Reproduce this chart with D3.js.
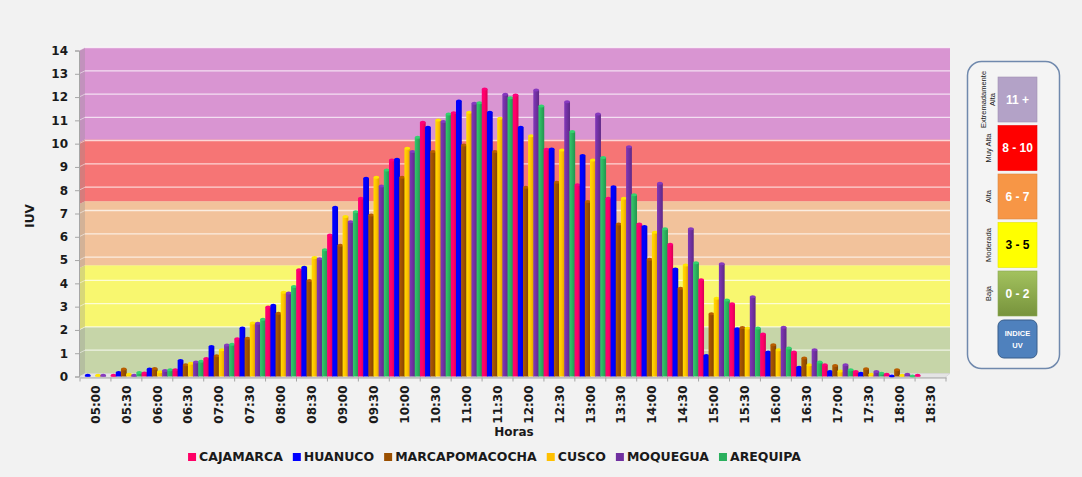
<!DOCTYPE html>
<html><head><meta charset="utf-8">
<script src="https://cdn.jsdelivr.net/npm/d3@7"></script>
<style>html,body{margin:0;padding:0;background:#f2f2f2;}svg{display:block;}</style>
</head><body><svg id="c" width="1082" height="477"></svg>
<script>
// ---------- DATA ----------
const hours = ["05:00","05:30","06:00","06:30","07:00","07:30","08:00","08:30","09:00","09:30","10:00","10:30","11:00","11:30","12:00","12:30","13:00","13:30","14:00","14:30","15:00","15:30","16:00","16:30","17:00","17:30","18:00","18:30"];
const seriesNames = ["CAJAMARCA","HUANUCO","MARCAPOMACOCHA","CUSCO","MOQUEGUA","AREQUIPA"];
const cajamarca = [0,0.05,0.15,0.29,0.77,1.62,2.98,4.58,6.08,7.66,9.3,10.92,11.33,12.35,12.09,9.76,8.23,7.66,6.55,5.68,4.15,3.12,1.83,1.05,0.5,0.21,0.1,0.05];
const huanuco = [0.05,0.17,0.32,0.69,1.29,2.08,3.06,4.69,7.27,8.51,9.33,10.7,11.83,11.35,10.7,9.77,9.49,8.15,6.44,4.62,0.9,2.05,1.05,0.4,0.21,0.14,0.02,0];
const marcapomacocha = [0,0.32,0.34,0.5,0.89,1.64,2.72,4.12,5.64,6.94,8.56,9.66,9.94,9.66,8.13,8.34,7.51,6.55,5.04,3.79,2.69,2.1,1.36,0.79,0.47,0.33,0.29,0];
const cusco = [0.05,0.1,0.2,0.57,1.15,2.3,3.62,5.11,6.87,8.56,9.8,11.02,11.35,11.09,10.34,9.73,9.3,7.66,6.2,4.79,3.36,2.08,1.15,0.5,0.24,0.1,0.05,0];
const moquegua = [0.05,0.05,0.26,0.62,1.35,2.29,3.59,5.06,6.65,8.18,9.66,10.95,11.73,12.12,12.3,11.8,11.27,9.87,8.3,6.35,4.84,3.43,2.12,1.15,0.5,0.21,0.1,0];
const arequipa = [0,0.17,0.29,0.66,1.39,2.46,3.86,5.44,7.08,8.87,10.27,11.27,11.76,11.97,11.62,10.52,9.41,7.8,6.34,4.89,3.29,2.08,1.22,0.62,0.29,0.14,0.02,0];
const seriesValues = [cajamarca, huanuco, marcapomacocha, cusco, moquegua, arequipa];
const seriesColors = ["#ff0066","#0000ff","#9a4f00","#ffc000","#7030a0","#2bb05e"];
const yTicks = d3.range(0, 15);
const bandLimits = [0, 2, 4.65, 7.4, 10.05, 14];
const bandColors = ["#c6d5a8","#f8f76f","#f2c29b","#f67575","#d995d2"];
const uvLevelNames = [["Extremadamente","Alta"],["Muy Alta"],["Alta"],["Moderada"],["Baja"]];
const uvLevelRanges = ["11 +","8 - 10","6 - 7","3 - 5","0 - 2"];
const uvLevelColors = ["#b3a2c7","#ff0000","#f79646","#ffff00","#9bbb59"];
const uvLevelText = ["#fff","#fff","#fff","#000","#fff"];

(function draw() {
const svg = d3.select("#c");
const W = 1082, H = 477;
svg.append("rect").attr("width", W).attr("height", H).attr("fill", "#f2f2f2");

const pLeft = 80, pRight = 946, pBottom = 376.5, pTop = 50.5;
const dx = 5, dy = -3; // depth offset of back wall
const y = d3.scaleLinear().domain([0, 14]).range([pBottom, pTop]);
const x0 = d3.scaleBand().domain(hours).range([pLeft, pRight]).padding(0);
const x1 = d3.scaleBand().domain(seriesNames).range([0, x0.bandwidth()]).padding(0);

const defs = svg.append("defs");
seriesColors.forEach((c, i) => {
  const g = defs.append("linearGradient").attr("id", "g" + i).attr("x1", 0).attr("x2", 1).attr("y1", 0).attr("y2", 0);
  g.append("stop").attr("offset", "0%").attr("stop-color", d3.color(c).brighter(0.4));
  g.append("stop").attr("offset", "50%").attr("stop-color", c);
  g.append("stop").attr("offset", "100%").attr("stop-color", d3.color(c).darker(0.5));
});

const wall = svg.append("g");
for (let i = 0; i < bandColors.length; i++) {
  const lo = bandLimits[i], hi = bandLimits[i + 1];
  wall.append("rect")
    .attr("x", pLeft + dx).attr("y", y(hi) + dy)
    .attr("width", pRight + 4 - (pLeft + dx)).attr("height", y(lo) - y(hi))
    .attr("fill", bandColors[i]);
  const c = d3.interpolateRgb(bandColors[i], "#8c8c8c")(0.3);
  wall.append("path")
    .attr("d", `M${pLeft - 1},${y(lo)} L${pLeft + dx},${y(lo) + dy} L${pLeft + dx},${y(hi) + dy} L${pLeft - 1},${y(hi)} Z`)
    .attr("fill", c);
}
yTicks.forEach(t => {
  if (t === 0) return;
  wall.append("line").attr("x1", pLeft + dx).attr("x2", pRight + 4)
    .attr("y1", y(t) + dy).attr("y2", y(t) + dy)
    .attr("stroke", "#ffffff").attr("stroke-opacity", 0.7).attr("stroke-width", 1.3);
  wall.append("line").attr("x1", pLeft - 1).attr("x2", pLeft + dx)
    .attr("y1", y(t)).attr("y2", y(t) + dy)
    .attr("stroke", "#ffffff").attr("stroke-opacity", 0.5).attr("stroke-width", 1);
});
svg.append("path")
  .attr("d", `M${pLeft - 1},${pBottom + 1} L${pLeft + dx},${pBottom + dy} L${pRight + 4},${pBottom + dy} L${pRight - 1},${pBottom + 1} Z`)
  .attr("fill", "#e4e4e4").attr("stroke", "#cfcfcf").attr("stroke-width", 0.6);

const barsG = svg.append("g");
hours.forEach((h, hi) => {
  seriesNames.forEach((s, si) => {
    const v = seriesValues[si][hi];
    if (v <= 0) return;
    const bw = x1.bandwidth() * 1.12;
    const bx = x0(h) + x1(s) - (bw - x1.bandwidth()) / 2;
    const yt = y(v);
    barsG.append("rect").attr("x", bx).attr("y", yt).attr("width", bw)
      .attr("height", Math.max(0, pBottom - yt)).attr("fill", `url(#g${si})`);
    barsG.append("ellipse").attr("cx", bx + bw / 2).attr("cy", yt).attr("rx", bw / 2).attr("ry", 1.5)
      .attr("fill", d3.color(seriesColors[si]).brighter(0.5));
  });
});

const yAxis = svg.append("g").attr("transform", `translate(${pLeft - 1},0)`)
  .call(d3.axisLeft(y).tickValues(yTicks).tickSize(4).tickPadding(7).tickFormat(d3.format("d")));
yAxis.select(".domain").attr("stroke", "#a6a6a6");
yAxis.selectAll(".tick line").attr("stroke", "#a6a6a6");
yAxis.selectAll("text").attr("font-family", "DejaVu Sans").attr("font-weight", "bold").attr("font-size", 12).attr("fill", "#1a1a1a");

const xAxis = svg.append("g").attr("transform", `translate(0,${pBottom + 1})`)
  .call(d3.axisBottom(x0).tickSize(0).tickPadding(0));
xAxis.select(".domain").attr("stroke", "#a6a6a6");
xAxis.selectAll(".tick text")
  .attr("font-family", "DejaVu Sans").attr("font-weight", "bold").attr("font-size", 12).attr("fill", "#1a1a1a")
  .attr("text-anchor", "end").attr("y", 0).attr("dy", "0.35em")
  .attr("transform", "translate(0,8) rotate(-90)");
const bounds = hours.map(h => x0(h)).concat([pRight]);
svg.append("g").selectAll("line").data(bounds).join("line")
  .attr("x1", d => d).attr("x2", d => d).attr("y1", pBottom + 1).attr("y2", pBottom + 5)
  .attr("stroke", "#a6a6a6");

svg.append("text").attr("transform", "translate(34,216) rotate(-90)").attr("text-anchor", "middle")
  .attr("font-family", "DejaVu Sans").attr("font-weight", "bold").attr("font-size", 12).attr("fill", "#1a1a1a").text("IUV");
svg.append("text").attr("x", 514).attr("y", 436).attr("text-anchor", "middle")
  .attr("font-family", "DejaVu Sans").attr("font-weight", "bold").attr("font-size", 12).attr("fill", "#1a1a1a").text("Horas");

const leg = svg.append("g");
let lx = 0;
seriesNames.forEach((s, i) => {
  const g = leg.append("g");
  g.append("rect").attr("x", 0).attr("y", -8).attr("width", 8).attr("height", 8).attr("fill", seriesColors[i]);
  const t = g.append("text").attr("x", 11).attr("y", 0).attr("font-family", "DejaVu Sans").attr("font-weight", "bold")
    .attr("font-size", 12.5).attr("fill", "#1a1a1a").text(s);
  const w = t.node().getComputedTextLength();
  g.attr("transform", `translate(${lx},0)`);
  lx += 11 + w + 10;
});
const legW = lx - 10;
leg.attr("transform", `translate(${494.5 - legW / 2},461)`);

const rl = svg.append("g");
rl.append("rect").attr("x", 967.5).attr("y", 61.5).attr("width", 92).attr("height", 307).attr("rx", 14)
  .attr("fill", "#f4f4f4").attr("stroke", "#7089ad").attr("stroke-width", 1.5);
const sqX = 998, sqW = 39, sqH = 45, sqY0 = 77, sqStep = 48.5;
const gb = defs.append("linearGradient").attr("id", "gb").attr("x1", 0).attr("x2", 0).attr("y1", 0).attr("y2", 1);
gb.append("stop").attr("offset", "0%").attr("stop-color", "#a3c25e");
gb.append("stop").attr("offset", "100%").attr("stop-color", "#77933c");
uvLevelRanges.forEach((r, i) => {
  const yy = sqY0 + i * sqStep;
  const fill = i === 4 ? "url(#gb)" : uvLevelColors[i];
  rl.append("rect").attr("x", sqX).attr("y", yy).attr("width", sqW).attr("height", sqH)
    .attr("fill", fill).attr("stroke", d3.color(uvLevelColors[i]).darker(0.3)).attr("stroke-width", 0.6);
  rl.append("text").attr("x", sqX + sqW / 2).attr("y", yy + sqH / 2).attr("dy", "0.35em").attr("text-anchor", "middle")
    .attr("font-family", "Liberation Sans").attr("font-weight", "bold").attr("font-size", 12)
    .attr("fill", uvLevelText[i]).text(r);
  const lines = uvLevelNames[i];
  lines.forEach((ln, k) => {
    const lxp = 988 - (lines.length - 1) * 4.5 + k * 9;
    rl.append("text").attr("transform", `translate(${lxp},${yy + sqH / 2}) rotate(-90)`)
      .attr("text-anchor", "middle").attr("dy", "0.35em")
      .attr("font-family", "Liberation Sans").attr("font-size", 7.5).attr("fill", "#1a1a1a").text(ln);
  });
});
rl.append("rect").attr("x", sqX).attr("y", 320).attr("width", sqW).attr("height", 38).attr("rx", 6)
  .attr("fill", "#4f81bd").attr("stroke", "#385d8a").attr("stroke-width", 1);
rl.append("text").attr("x", sqX + sqW / 2).attr("y", 336).attr("text-anchor", "middle")
  .attr("font-family", "Liberation Sans").attr("font-weight", "bold").attr("font-size", 7.5).attr("fill", "#fff").text("INDICE");
rl.append("text").attr("x", sqX + sqW / 2).attr("y", 348).attr("text-anchor", "middle")
  .attr("font-family", "Liberation Sans").attr("font-weight", "bold").attr("font-size", 7.5).attr("fill", "#fff").text("UV");
})();
</script></body></html>
